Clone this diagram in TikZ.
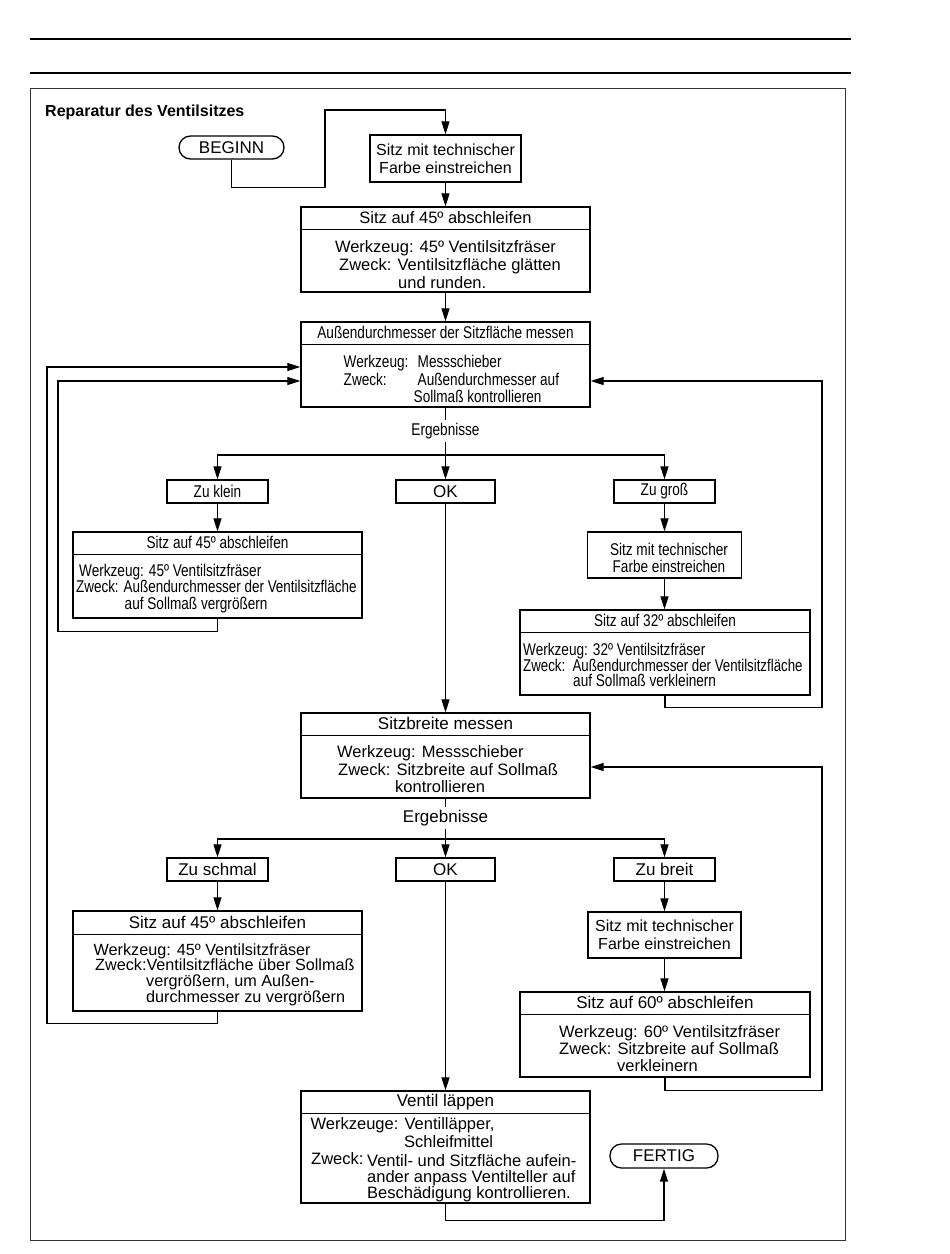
\documentclass[tikz,border=0pt]{standalone}
\usepackage{fontspec}
\usepackage{graphicx}
\setmainfont{Liberation Sans}
\usetikzlibrary{arrows.meta}
\newcommand{\fs}{\fontsize{17}{19}\selectfont}
\newcommand{\fsb}{\fontsize{16.5}{18}\selectfont}
\newcommand{\fss}{\fontsize{16}{18}\selectfont}
\newcommand{\nar}[1]{\scalebox{0.8}[1]{#1}}
\begin{document}
\begin{tikzpicture}[x=1pt,y=-1pt,
  box/.style={draw,line width=1.3pt,inner sep=0pt},
  term/.style={draw,line width=1.3pt,rounded corners=11.5pt,inner sep=0pt,font=\fs},
  conn/.style={line width=1.2pt,-{Triangle[length=13pt,width=8pt]}},
  plain/.style={line width=1.2pt},
  tx/.style={inner sep=0pt,anchor=base west,font=\fsb},
  hd/.style={inner sep=0pt,font=\fs},
  lbl/.style={inner sep=2.5pt,font=\fs,fill=white},
  divider/.style={line width=1.2pt}
]
\useasboundingbox (0,0) rectangle (950,1254);
% page rules and frame
\draw[line width=1.2pt] (30,39) -- (851,39);
\draw[line width=1.2pt] (30,73) -- (851,73);
\draw[line width=1pt,black!80] (30,88) rectangle (845,1240);
\node[inner sep=0pt,anchor=base west,font=\fontsize{16}{18}\selectfont\bfseries] (title) at (45,116) {Reparatur des Ventilsitzes};

% ---------- nodes ----------
\node[term,minimum width=105pt,minimum height=23pt] (begin) at (231.5,147.5) {BEGINN};
\node[box,minimum width=151pt,minimum height=47pt,align=center,font=\fss] (b1) at (445.5,158.5) {Sitz mit technischer\\Farbe einstreichen};

\node[box,minimum width=289pt,minimum height=85pt] (b2) at (445.5,249.5) {};
\draw[divider] ([yshift=-23pt]b2.north west) -- ([yshift=-23pt]b2.north east);
\node[hd,font=\fsb] at ([yshift=-11.5pt]b2.north) {Sitz auf 45º abschleifen};
\node[hd,anchor=base,font=\fsb] at (445.5,252) {Werkzeug: 45º Ventilsitzfräser};
\node[tx] at (339,270) {Zweck: Ventilsitzfläche glätten};
\node[tx] at (398,288) {und runden.};

\node[box,minimum width=289pt,minimum height=85pt] (b3) at (445.5,364.5) {};
\draw[divider] ([yshift=-23pt]b3.north west) -- ([yshift=-23pt]b3.north east);
\node[hd] at ([yshift=-11.5pt]b3.north) {\nar{Außendurchmesser der Sitzfläche messen}};
\node[tx,font=\fs] at (343.5,367) {\nar{Werkzeug:}};
\node[tx,font=\fs] at (417.5,367) {\nar{Messschieber}};
\node[tx,font=\fs] at (343.5,385) {\nar{Zweck:}};
\node[tx,font=\fs] at (417.5,385) {\nar{Außendurchmesser auf}};
\node[tx,font=\fs] at (413.5,402) {\nar{Sollmaß kontrollieren}};

\node[lbl] (erg1) at (445.5,431) {\nar{Ergebnisse}};
\coordinate (s1) at (445.5,455);

\node[box,minimum width=101pt,minimum height=23pt,font=\fs] (kl) at (217.5,491.5) {\nar{Zu klein}};
\node[box,minimum width=99pt,minimum height=23pt,font=\fs] (ok1) at (445.5,491.5) {OK};
\node[box,minimum width=101pt,minimum height=23pt,font=\fs] (gr) at (664.5,491.5) {\nar{Zu groß}};

\node[box,minimum width=289pt,minimum height=86pt] (L1) at (217.5,575) {};
\draw[divider] ([yshift=-23pt]L1.north west) -- ([yshift=-23pt]L1.north east);
\node[hd] at ([yshift=-11.5pt]L1.north) {\nar{Sitz auf 45º abschleifen}};
\node[tx,font=\fs] at (79,576) {\nar{Werkzeug: 45º Ventilsitzfräser}};
\node[tx,font=\fs] at (76,592) {\scalebox{0.79}[1]{Zweck: Außendurchmesser der Ventilsitzfläche}};
\node[tx,font=\fs] at (124.5,609) {\nar{auf Sollmaß vergrößern}};

\node[box,minimum width=154pt,minimum height=46pt] (R1a) at (664.5,555) {};
\node[hd,align=center,font=\fontsize{17}{17}\selectfont] at (669,557.5) {\nar{Sitz mit technischer}\\\nar{Farbe einstreichen}};

\node[box,minimum width=290pt,minimum height=85pt] (R1b) at (665,652.5) {};
\draw[divider] ([yshift=-23pt]R1b.north west) -- ([yshift=-23pt]R1b.north east);
\node[hd] at ([yshift=-11.5pt]R1b.north) {\nar{Sitz auf 32º abschleifen}};
\node[tx,font=\fs] at (523,655) {\nar{Werkzeug: 32º Ventilsitzfräser}};
\node[tx,font=\fs] at (523,671) {\scalebox{0.78}[1]{Zweck:\ \ Außendurchmesser der Ventilsitzfläche}};
\node[tx,font=\fs] at (573,686) {\nar{auf Sollmaß verkleinern}};

\node[box,minimum width=289pt,minimum height=85pt] (b4) at (445.5,755.5) {};
\draw[divider] ([yshift=-23pt]b4.north west) -- ([yshift=-23pt]b4.north east);
\node[hd] at ([yshift=-11.5pt]b4.north) {Sitzbreite messen};
\node[tx] at (337,757.5) {Werkzeug: Messschieber};
\node[tx] at (338,775) {Zweck: Sitzbreite auf Sollmaß};
\node[tx] at (395,792.5) {kontrollieren};

\node[lbl] (erg2) at (445.5,818) {Ergebnisse};
\coordinate (s2) at (445.5,839);

\node[box,minimum width=101pt,minimum height=23pt,font=\fs] (sm) at (217.5,869.5) {Zu schmal};
\node[box,minimum width=99pt,minimum height=23pt,font=\fs] (ok2) at (445.5,869.5) {OK};
\node[box,minimum width=101pt,minimum height=23pt,font=\fs] (br) at (664.5,869.5) {Zu breit};

\node[box,minimum width=289pt,minimum height=100pt] (L2) at (217.5,961) {};
\draw[divider] ([yshift=-24pt]L2.north west) -- ([yshift=-24pt]L2.north east);
\node[hd] at ([yshift=-12pt]L2.north) {Sitz auf 45º abschleifen};
\node[tx,font=\fontsize{16.2}{18}\selectfont] at (93.5,955) {Werkzeug: 45º Ventilsitzfräser};
\node[tx,font=\fontsize{16.2}{18}\selectfont] at (95,970.5) {Zweck:Ventilsitzfläche über Sollmaß};
\node[tx,font=\fontsize{16.2}{18}\selectfont] at (146,986.5) {vergrößern, um Außen-};
\node[tx,font=\fontsize{16.2}{18}\selectfont] at (146,1002) {durchmesser zu vergrößern};

\node[box,minimum width=153pt,minimum height=46pt,align=center,font=\fss] (R2a) at (664.5,935) {Sitz mit technischer\\Farbe einstreichen};

\node[box,minimum width=290pt,minimum height=85pt] (R2b) at (665,1034.5) {};
\draw[divider] ([yshift=-23pt]R2b.north west) -- ([yshift=-23pt]R2b.north east);
\node[hd] at ([yshift=-11.5pt]R2b.north) {Sitz auf 60º abschleifen};
\node[tx] at (559,1037) {Werkzeug: 60º Ventilsitzfräser};
\node[tx] at (559,1054) {Zweck: Sitzbreite auf Sollmaß};
\node[tx] at (617,1071.5) {verkleinern};

\node[box,minimum width=289pt,minimum height=112pt] (b5) at (445.5,1147) {};
\draw[divider] ([yshift=-23pt]b5.north west) -- ([yshift=-23pt]b5.north east);
\node[hd] at ([yshift=-11.5pt]b5.north) {Ventil läppen};
\node[tx] at (310.5,1129) {Werkzeuge: Ventilläpper,};
\node[tx] at (404,1147) {Schleifmittel};
\node[tx] at (311,1164) {Zweck:};
\node[tx] at (367,1166.5) {Ventil- und Sitzfläche aufein-};
\node[tx] at (367,1182.5) {ander anpass Ventilteller auf};
\node[tx] at (367,1198) {Beschädigung kontrollieren.};

\node[term,minimum width=108pt,minimum height=24pt] (fertig) at (664,1156) {FERTIG};

% ---------- connectors ----------
\draw[conn] (begin.south) -- ++(0,28) -| (325,110) -| (b1.north);
\draw[conn] (b1.south) -- (b2.north);
\draw[conn] (b2.south) -- (b3.north);
\draw[plain] (b3.south) -- (erg1.north);
\draw[plain] (erg1.south) -- (s1);
\draw[conn] (s1) -- (ok1.north);
\draw[conn] (s1) -| (kl.north);
\draw[conn] (s1) -| (gr.north);
\draw[conn] (kl.south) -- (L1.north);
\draw[conn] (gr.south) -- (R1a.north);
\draw[conn] (R1a.south) -- (R1a.south |- R1b.north);
\draw[conn] (L1.south) -- ++(0,13) -| (58,381) -- ([yshift=-16.5pt]b3.west);
\draw[conn] (R1b.south) -- ++(0,12) -| (822,381) -- ([yshift=-16.5pt]b3.east);
\draw[conn] (ok1.south) -- (b4.north);

\draw[plain] (b4.south) -- (erg2.north);
\draw[plain] (erg2.south) -- (s2);
\draw[conn] (s2) -- (ok2.north);
\draw[conn] (s2) -| (sm.north);
\draw[conn] (s2) -| (br.north);
\draw[conn] (sm.south) -- (L2.north);
\draw[conn] (br.south) -- (R2a.north);
\draw[conn] (R2a.south) -- (R2a.south |- R2b.north);
\draw[conn] (L2.south) -- ++(0,12) -| (47,367) -- ([yshift=-2.5pt]b3.west);
\draw[conn] (R2b.south) -- ++(0,13) -| (822,767) -- ([yshift=-11.5pt]b4.east);
\draw[conn] (ok2.south) -- (b5.north);
\draw[conn] (b5.south) -- ++(0,17) -| (fertig.south);
\end{tikzpicture}
\end{document}
